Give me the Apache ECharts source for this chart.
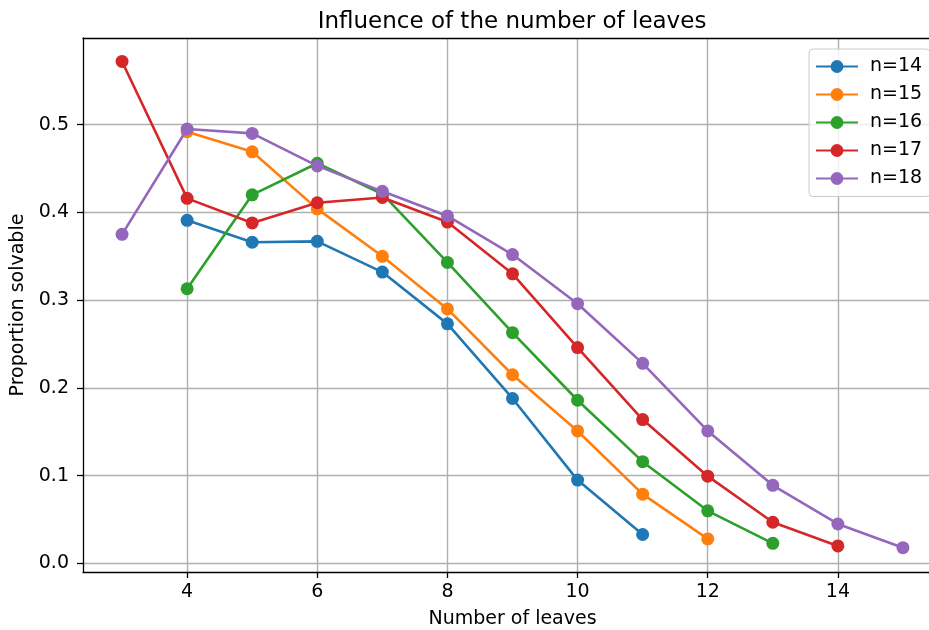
<!DOCTYPE html>
<html>
<head>
<meta charset="utf-8">
<script src="https://cdn.jsdelivr.net/npm/echarts@6/dist/echarts.min.js"></script>
<style>
html,body{margin:0;padding:0;background:#fff;}
#chart{width:929px;height:630px;}
</style>
</head>
<body>
<div id="chart"></div>
<script>
// ---- data ----
const seriesNames = ['n=14', 'n=15', 'n=16', 'n=17', 'n=18'];
const leaves14 = [4, 5, 6, 7, 8, 9, 10, 11];
const values14 = [0.391, 0.366, 0.367, 0.332, 0.273, 0.188, 0.095, 0.033];
const leaves15 = [4, 5, 6, 7, 8, 9, 10, 11, 12];
const values15 = [0.492, 0.469, 0.404, 0.350, 0.290, 0.215, 0.151, 0.079, 0.028];
const leaves16 = [4, 5, 6, 7, 8, 9, 10, 11, 12, 13];
const values16 = [0.313, 0.420, 0.456, 0.421, 0.343, 0.263, 0.186, 0.116, 0.060, 0.023];
const leaves17 = [3, 4, 5, 6, 7, 8, 9, 10, 11, 12, 13, 14];
const values17 = [0.572, 0.416, 0.388, 0.411, 0.417, 0.389, 0.330, 0.246, 0.164, 0.0995, 0.047, 0.020];
const leaves18 = [3, 4, 5, 6, 7, 8, 9, 10, 11, 12, 13, 14, 15];
const values18 = [0.375, 0.495, 0.490, 0.453, 0.424, 0.396, 0.352, 0.296, 0.228, 0.151, 0.089, 0.045, 0.018];
const xTicks = [4, 6, 8, 10, 12, 14];
const yTicks = [0.0, 0.1, 0.2, 0.3, 0.4, 0.5];

const allLeaves = [leaves14, leaves15, leaves16, leaves17, leaves18];
const allValues = [values14, values15, values16, values17, values18];
const colors = ['#1f77b4', '#ff7f0e', '#2ca02c', '#d62728', '#9467bd'];

const FONT = 'DejaVu Sans';
const chart = echarts.init(document.getElementById('chart'), null, {renderer: 'canvas'});

const series = seriesNames.map((name, i) => ({
  name: name,
  type: 'line',
  data: allLeaves[i].map((x, j) => [x, allValues[i][j]]),
  symbol: 'circle',
  symbolSize: 13,
  showSymbol: true,
  lineStyle: {width: 2.6, color: colors[i]},
  itemStyle: {color: colors[i], borderWidth: 0},
  emphasis: {disabled: true},
  animation: false,
  z: 3 + i
}));

const axisText = {fontFamily: FONT, fontSize: 19, color: '#000'};

const option = {
  animation: false,
  backgroundColor: '#fff',
  title: {
    text: 'Influence of the number of leaves',
    left: 507,
    top: 6,
    textAlign: 'center',
    textStyle: {fontFamily: FONT, fontSize: 23, fontWeight: 'normal', color: '#000'}
  },
  legend: {
    orient: 'vertical',
    left: 809,
    top: 49,
    padding: [8, 8, 8.5, 6],
    itemWidth: 42,
    itemHeight: 16,
    itemGap: 9,
    backgroundColor: 'rgba(255,255,255,0.8)',
    borderColor: '#cccccc',
    borderWidth: 1,
    borderRadius: 4,
    textStyle: {fontFamily: FONT, fontSize: 19, color: '#000', lineHeight: 18.25, padding: [0, 0, 0, 7]},
    data: seriesNames
  },
  grid: {
    left: 83, right: -13, top: 38, bottom: 58,
    outerBoundsMode: 'none',
    show: false,
    containLabel: false
  },
  xAxis: [{
    type: 'value',
    min: 2.4, max: 15.6,
    name: 'Number of leaves',
    nameLocation: 'middle',
    nameGap: 38,
    nameTextStyle: axisText,
    axisLine: {show: true, onZero: false, lineStyle: {color: '#000', width: 1.3}},
    axisTick: {show: true, length: 6, customValues: xTicks, lineStyle: {color: '#000', width: 1.3}},
    axisLabel: Object.assign({show: true, margin: 11, customValues: xTicks}, axisText),
    splitLine: {show: true, lineStyle: {color: '#b0b0b0', width: 1.4}}
  }, {
    type: 'value',
    position: 'top',
    min: 2.4, max: 15.6,
    axisLine: {show: true, onZero: false, lineStyle: {color: '#000', width: 1.3}},
    axisTick: {show: false},
    axisLabel: {show: false},
    splitLine: {show: false}
  }],
  yAxis: {
    type: 'value',
    min: -0.0097, max: 0.5987,
    name: 'Proportion solvable',
    nameLocation: 'middle',
    nameGap: 50,
    nameTextStyle: axisText,
    axisLine: {show: true, onZero: false, lineStyle: {color: '#000', width: 1.3}},
    axisTick: {show: true, length: 6, customValues: yTicks, lineStyle: {color: '#000', width: 1.3}},
    axisLabel: Object.assign({show: true, margin: 14, customValues: yTicks,
      formatter: v => v.toFixed(1)}, axisText),
    splitLine: {show: true, lineStyle: {color: '#b0b0b0', width: 1.4}}
  },
  series: series
};
chart.setOption(option);
</script>
</body>
</html>
